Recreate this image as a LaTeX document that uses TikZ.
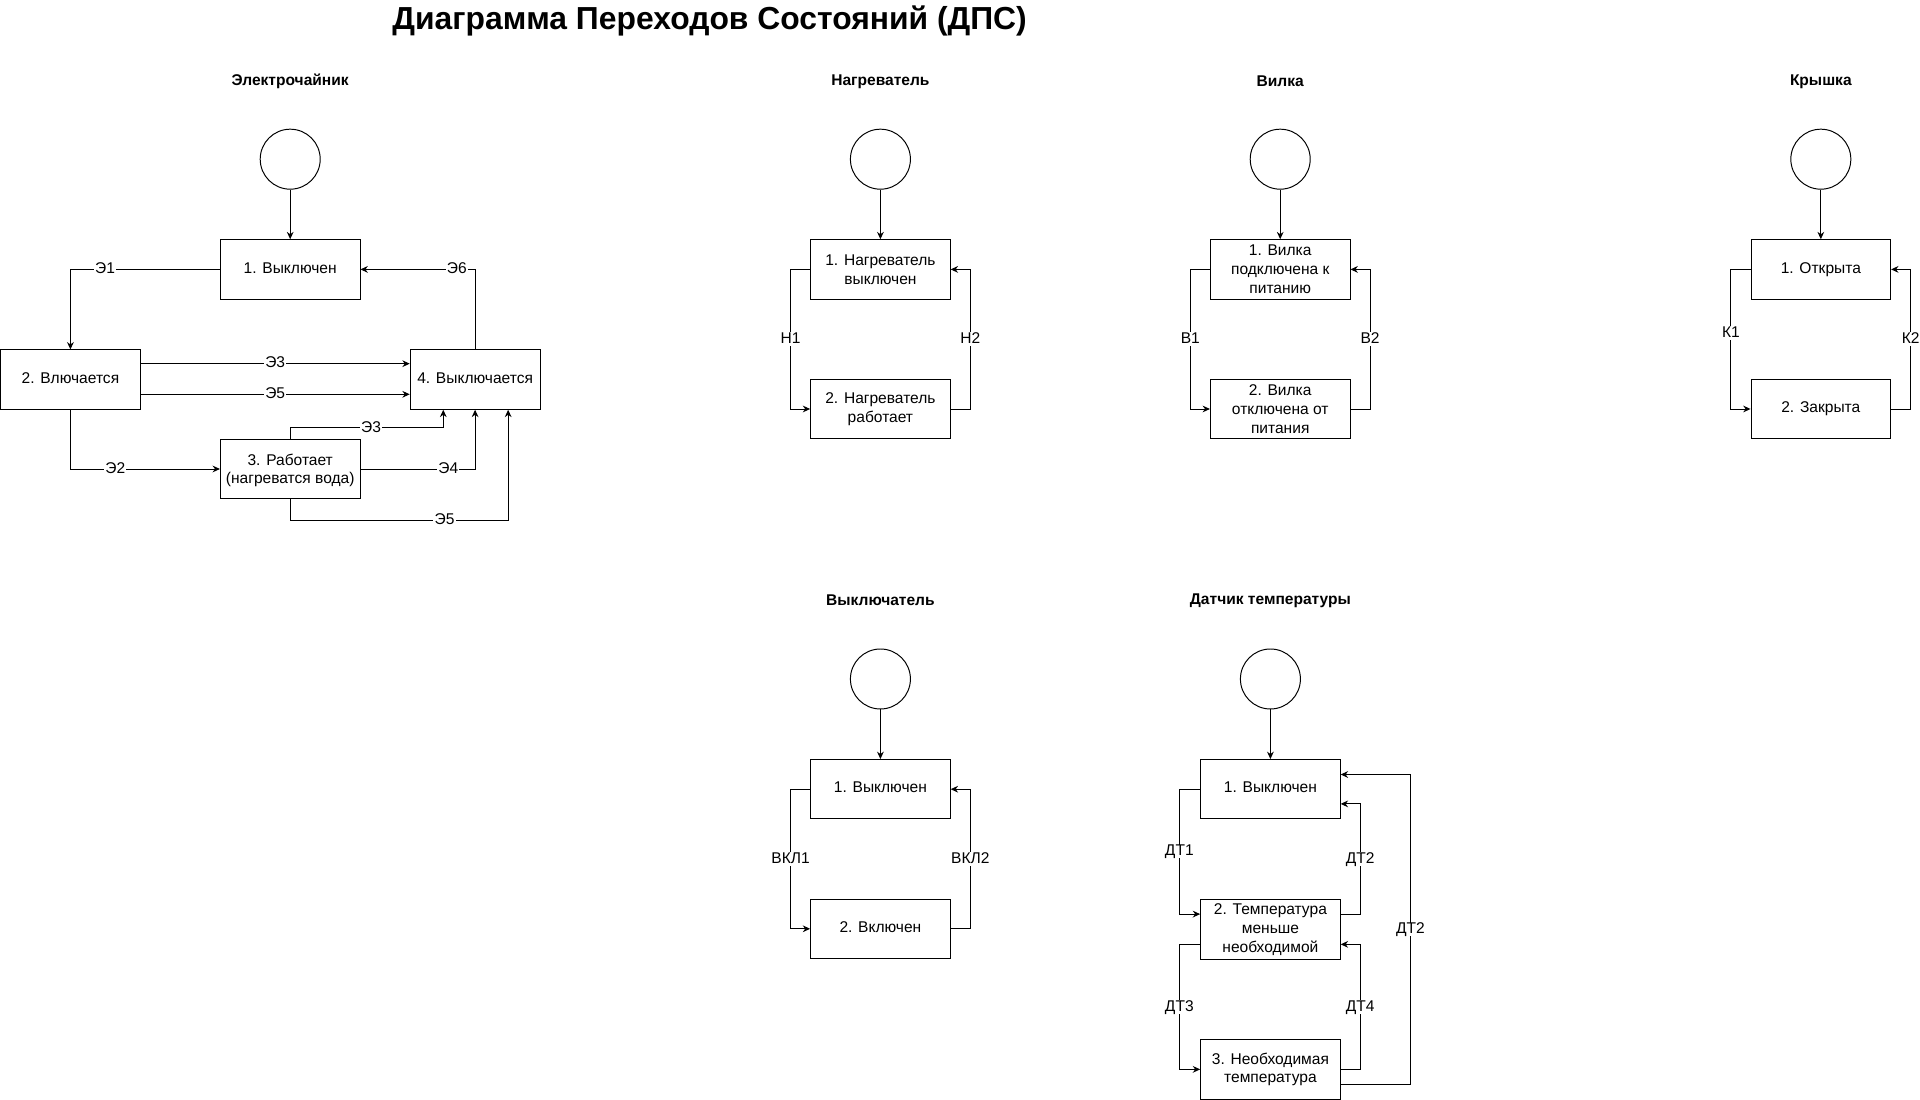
\documentclass[tikz,border=0pt]{standalone}
\usepackage{fontspec}
\setmainfont{Liberation Sans}
\usetikzlibrary{arrows.meta}
\begin{document}
\begin{tikzpicture}[x=1pt,y=-1pt,
  every node/.style={font=\fontsize{12.7}{15.3}\selectfont},
  state/.style={draw, line width=0.8pt, minimum width=114pt, minimum height=48.5pt, align=center, inner sep=0pt},
  oneline/.style={text height=7pt, text depth=1pt},
  init/.style={draw, line width=0.8pt, circle, minimum size=49pt, inner sep=0pt},
  hdr/.style={font=\bfseries\fontsize{12.7}{15.3}\selectfont},
  lbl/.style={fill=white, inner sep=1pt, text height=8pt, text depth=1pt},
  arr/.style={line width=0.8pt, -{Stealth[length=6pt,width=5.5pt]}},
  ln/.style={line width=0.8pt}
]
\useasboundingbox (0,0) rectangle (1568,898);

\node[font=\bfseries\fontsize{26}{30}\selectfont] (title) at (579.5,17) {Диаграмма Переходов Состояний (ДПС)};

% ---------- Электрочайник ----------
\node[hdr] (h1) at (237,66.5) {Электрочайник};
\node[init] (c1) at (237,130) {};
\node[state,oneline] (e1) at (237,220) {1. Выключен};
\node[state,oneline] (e2) at (57.5,310) {2. Влючается};
\node[state,oneline, minimum width=106pt] (e4) at (388,310) {4. Выключается};
\node[state] (e3) at (237,383) {\raisebox{-1.5pt}[\height][\depth]{\begin{tabular}{@{}c@{}}3. Работает\\(нагреватся вода)\end{tabular}}};
\draw[arr] (c1) -- (e1);
\draw[arr] (e1.west) -| node[lbl,pos=0.384]{Э1} (e2.north);
\draw[arr] (e4.north) |- node[lbl,pos=0.58]{Э6} (e1.east);
\draw[arr] ([yshift=13pt]e2.east) -- node[lbl]{Э3} ([yshift=13pt]e4.west);
\draw[arr] ([yshift=-12pt]e2.east) -- node[lbl]{Э5} ([yshift=-12pt]e4.west);
\draw[arr] (e2.south) |- node[lbl,pos=0.65]{Э2} (e3.west);
\draw[arr] (e3.north) -- ++(0,-9) -| node[lbl,pos=0.264]{Э3} ([xshift=-26pt]e4.south);
\draw[arr] (e3.east) -| node[lbl,pos=0.383]{Э4} (e4.south);
\draw[arr] (e3.south) -- ++(0,17) -| node[lbl,pos=0.354]{Э5} ([xshift=27pt]e4.south);

% ---------- Нагреватель ----------
\node[hdr] (h2) at (719,66.5) {Нагреватель};
\node[init] (c2) at (719,130) {};
\node[state] (n1) at (719,220) {1. Нагреватель\\выключен};
\node[state] (n2) at (719,334) {2. Нагреватель\\работает};
\draw[arr] (c2) -- (n1);
\draw[arr] (n1.west) -- ++(-16,0) |- node[lbl,pos=0.25]{Н1} (n2.west);
\draw[arr] (n2.east) -- ++(16,0) |- node[lbl,pos=0.25]{Н2} (n1.east);

% ---------- Вилка ----------
\node[hdr] (h3) at (1045.5,66.5) {Вилка};
\node[init] (c3) at (1045.5,130) {};
\node[state] (v1) at (1045.5,220) {1. Вилка\\подключена к\\питанию};
\node[state] (v2) at (1045.5,334) {2. Вилка\\отключена от\\питания};
\draw[arr] (c3) -- (v1);
\draw[arr] (v1.west) -- ++(-16,0) |- node[lbl,pos=0.25]{В1} (v2.west);
\draw[arr] (v2.east) -- ++(16,0) |- node[lbl,pos=0.25]{В2} (v1.east);

% ---------- Крышка ----------
\node[hdr] (h4) at (1487,66.5) {Крышка};
\node[init] (c4) at (1487,130) {};
\node[state,oneline] (k1) at (1487,220) {1. Открыта};
\node[state,oneline] (k2) at (1487,334) {2. Закрыта};
\draw[arr] (c4) -- (k1);
\draw[arr] (k1.west) -- ++(-16,0) |- node[lbl,pos=0.228]{К1} (k2.west);
\draw[arr] (k2.east) -- ++(16,0) |- node[lbl,pos=0.25]{К2} (k1.east);

% ---------- Выключатель ----------
\node[hdr] (h5) at (719,490.5) {Выключатель};
\node[init] (c5) at (719,554.5) {};
\node[state,oneline] (s1) at (719,644.5) {1. Выключен};
\node[state,oneline] (s2) at (719,758.5) {2. Включен};
\draw[arr] (c5) -- (s1);
\draw[arr] (s1.west) -- ++(-16,0) |- node[lbl,pos=0.25]{ВКЛ1} (s2.west);
\draw[arr] (s2.east) -- ++(16,0) |- node[lbl,pos=0.25]{ВКЛ2} (s1.east);

% ---------- Датчик температуры ----------
\node[hdr] (h6) at (1037.5,490.5) {Датчик температуры};
\node[init] (c6) at (1037.5,554.5) {};
\node[state,oneline] (d1) at (1037.5,644.5) {1. Выключен};
\node[state] (d2) at (1037.5,759) {2. Температура\\меньше\\необходимой};
\node[state] (d3) at (1037.5,873.3) {3. Необходимая\\температура};
\draw[arr] (c6) -- (d1);
\draw[arr] (d1.west) -- ++(-17,0) |- node[lbl,pos=0.25]{ДТ1} ([yshift=12.5pt]d2.west);
\draw[arr] ([yshift=12.5pt]d2.east) -- ++(16,0) |- node[lbl,pos=0.25]{ДТ2} ([yshift=-12pt]d1.east);
\draw[arr] ([yshift=-12.2pt]d2.west) -- ++(-17,0) |- node[lbl,pos=0.25]{ДТ3} (d3.west);
\draw[arr] (d3.east) -- ++(16,0) |- node[lbl,pos=0.25]{ДТ4} ([yshift=-12.2pt]d2.east);
\draw[arr] ([yshift=-12.3pt]d3.east) -- ++(57,0) |- node[lbl,pos=0.25]{ДТ2} ([yshift=12pt]d1.east);
\end{tikzpicture}
\end{document}
